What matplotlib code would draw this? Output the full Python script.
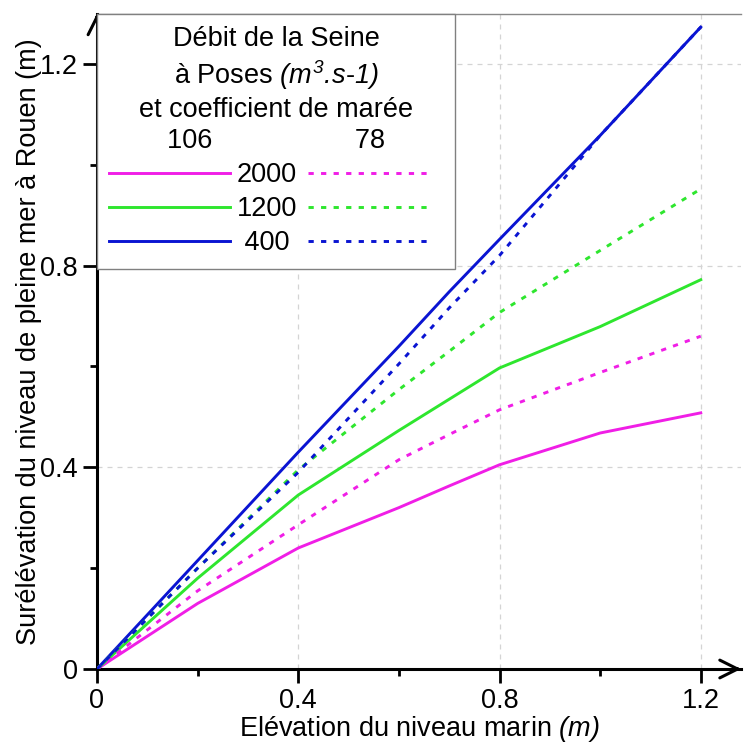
import numpy as np
import matplotlib
matplotlib.use("Agg")
import matplotlib.pyplot as plt
from matplotlib.lines import Line2D

plt.rcParams['font.family'] = ['Liberation Sans', 'DejaVu Sans']
plt.rcParams['font.size'] = 19.5
# math parts of the labels are the italic units
plt.rcParams['mathtext.fontset'] = 'custom'
plt.rcParams['mathtext.rm'] = 'Liberation Sans:italic'
plt.rcParams['mathtext.it'] = 'Liberation Sans:italic'
plt.rcParams['mathtext.bf'] = 'Liberation Sans:bold'

# sea level rise (m)
elev = [0, 0.2, 0.4, 0.6, 0.7, 0.8, 1.0, 1.2]

# high water rise at Rouen (m), per Seine discharge, tide coefficient 106 / 78
q2000_106 = [0, 0.13, 0.24, 0.32, 0.363, 0.405, 0.468, 0.508]
q2000_78 = [0, 0.155, 0.286, 0.415, 0.465, 0.514, 0.588, 0.66]
q1200_106 = [0, 0.18, 0.345, 0.473, 0.535, 0.597, 0.679, 0.772]
q1200_78 = [0, 0.2, 0.395, 0.554, 0.63, 0.707, 0.83, 0.952]
q400_106 = [0, 0.215, 0.43, 0.64, 0.748, 0.852, 1.058, 1.273]
q400_78 = [0, 0.2, 0.39, 0.605, 0.716, 0.82, 1.058, 1.273]

debits = ['2000', '1200', ' 400']
colors = ['#f01ee6', '#2ee62e', '#0a14d2']
solid = [q2000_106, q1200_106, q400_106]
dotted = [q2000_78, q1200_78, q400_78]

xticks = [0, 0.4, 0.8, 1.2]
xticklabels = ['0', '0.4', '0.8', '1.2']
yticks = [0, 0.4, 0.8, 1.2]
yticklabels = ['0', '0.4', '0.8', '1.2']
minor = [0.2, 0.6, 1.0]

dots = (0, (1.8, 2.5))
lw = 2.1

fig = plt.figure(figsize=(7.45, 7.47), dpi=100)
ax = fig.add_axes([97 / 745, 78 / 747, 644 / 745, 655.5 / 747])

for ys, c in zip(solid, colors):
    ax.plot(elev, ys, color=c, lw=lw, zorder=3)
for ys, c in zip(dotted, colors):
    ax.plot(elev, ys, color=c, lw=lw, ls=dots, zorder=3)

ax.set_xlim(0, 1.28)
ax.set_ylim(0, 1.3)
ax.set_xticks(xticks)
ax.set_xticklabels(xticklabels)
ax.set_yticks(yticks)
ax.set_yticklabels(yticklabels)
ax.set_xticks(minor, minor=True)
ax.set_yticks(minor, minor=True)
ax.tick_params(which='major', direction='out', length=10, width=2, pad=4)
ax.tick_params(which='minor', direction='out', length=5, width=2)

ax.set_axisbelow(True)
ax.grid(True, which='major', color='#d4d4d4', lw=0.9, ls=(0, (4, 4)))

for side in ['left', 'bottom']:
    ax.spines[side].set_linewidth(2.2)
ax.spines['right'].set_visible(False)
ax.spines['top'].set_color('#888888')
ax.spines['top'].set_linewidth(1)

# arrow heads on both axes
arrow = dict(arrowstyle='->', lw=2.2, color='black', shrinkA=0, shrinkB=0,
             mutation_scale=32)
ax.annotate('', xy=(1.0, 0), xytext=(0.99, 0), xycoords='axes fraction',
            arrowprops=arrow, annotation_clip=False, zorder=4)
ax.annotate('', xy=(0, 1.0), xytext=(0, 0.99), xycoords='axes fraction',
            arrowprops=arrow, annotation_clip=False, zorder=4)

ax.set_xlabel(r'Elévation du niveau marin $(m)$', labelpad=0)
ax.set_ylabel('Surélévation du niveau de pleine mer à Rouen (m)', labelpad=-2)

handles = []
labels = []
for c, d in zip(colors, debits):
    handles.append(Line2D([], [], color=c, lw=lw))
    labels.append(d)
for c in colors:
    handles.append(Line2D([], [], color=c, lw=lw, ls=dots))
    labels.append(' ')

title = ('Débit de la Seine\n'
         r'à Poses $(m^{3}.\!s$-$1)$' '\n'
         'et coefficient de marée\n'
         '106' + ' ' * 19 + '78')
leg = ax.legend(handles, labels, title=title, ncol=2, loc='upper left',
                bbox_to_anchor=(0, 1), borderaxespad=0, fancybox=False,
                framealpha=1, edgecolor='#808080', fontsize=19.5,
                title_fontsize=19.5, handlelength=4.45, handletextpad=0.26,
                columnspacing=0.4, labelspacing=0.3, borderpad=0.45)
leg.get_frame().set_linewidth(1)
leg.get_title().set_multialignment('center')
leg.get_title().set_linespacing(1.25)
leg.set_zorder(5)

fig.savefig('out.png', dpi=100)
